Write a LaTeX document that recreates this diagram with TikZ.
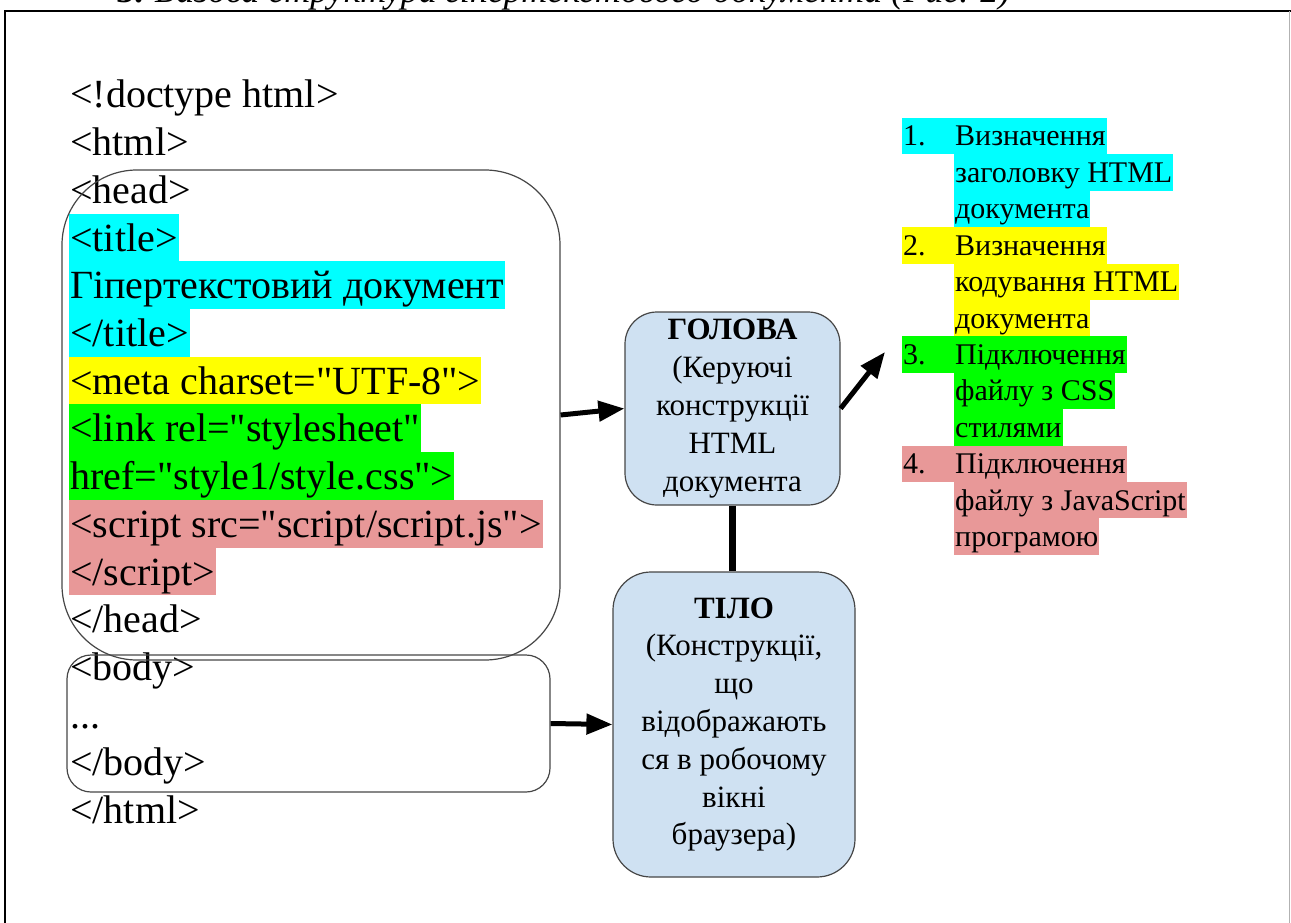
\documentclass[tikz,border=0pt]{standalone}
\usepackage{fontspec}
\setmainfont{Liberation Serif}[Ligatures=TeXOff]
\usetikzlibrary{arrows.meta}
\definecolor{hlcyan}{RGB}{0,255,255}
\definecolor{hlyellow}{RGB}{255,255,0}
\definecolor{hlgreen}{RGB}{0,255,0}
\definecolor{hlpink}{RGB}{232,152,152}
\definecolor{partfill}{RGB}{207,225,242}
\definecolor{partline}{RGB}{70,70,70}
\tikzset{
  codeline/.style={anchor=base west, inner xsep=1pt, inner ysep=0pt,
    text height=37.5pt, text depth=10.2pt, font=\fontsize{40}{47.7}\selectfont},
  listline/.style={anchor=base west, inner xsep=1pt, inner ysep=0pt,
    text height=28pt, text depth=8.4pt, font=\fontsize{30}{36.4}\selectfont},
  groupbox/.style={draw=partline, line width=1.2pt, inner sep=0pt},
  partbox/.style={draw=partline, line width=1.2pt, fill=partfill, rounded corners=32pt,
    align=center, inner sep=0pt, font=\fontsize{31}{37.8}\selectfont},
  flow/.style={line width=5pt, -{Triangle[length=26pt,width=20pt]}},
  link/.style={line width=7pt}
}
\begin{document}
\begin{tikzpicture}[x=1pt,y=-1pt]
\useasboundingbox (0,0) rectangle (1291,923);
\begin{scope}
\clip (0,0) rectangle (1291,923);
\node[anchor=base west, inner sep=0pt, font=\fontsize{36}{44}\selectfont] (caption) at (116,3)
  {\textbf{3.} \textit{Базова структура гіпертекстового документа (Рис. 2)}};
\end{scope}
% page frame
\draw[line width=2.5pt] (5,923) -- (5,11) -- (1291,11);
\draw[gray!60, line width=1pt] (1289,11) -- (1289,923);

% HTML source
\node[codeline] (l0) at (69,108.0) {<!doctype html>};
\node[codeline] (l1) at (69,155.7) {<html>};
\node[codeline] (l2) at (69,203.4) {<head>};
\node[codeline, fill=hlcyan] (l3) at (69,251.1) {<title>};
\node[codeline, fill=hlcyan] (l4) at (69,298.8) {Гіпертекстовий документ};
\node[codeline, fill=hlcyan] (l5) at (69,346.5) {</title>};
\node[codeline, fill=hlyellow] (l6) at (69,394.2) {<meta charset="UTF-8">};
\node[codeline, fill=hlgreen] (l7) at (69,441.9) {<link rel="stylesheet"};
\node[codeline, fill=hlgreen] (l8) at (69,489.6) {href="style1/style.css">};
\node[codeline, fill=hlpink] (l9) at (69,537.3) {<script src="script/script.js">};
\node[codeline, fill=hlpink] (l10) at (69,585.0) {</script>};
\node[codeline] (l11) at (69,632.7) {</head>};
\node[codeline] (l12) at (69,680.4) {<body>};
\node[codeline] (l13) at (69,728.1) {...};
\node[codeline] (l14) at (69,775.8) {</body>};
\node[codeline] (l15) at (69,823.5) {</html>};

% groups of the source
\node[groupbox, rounded corners=75pt, minimum width=498pt, minimum height=490pt] (headbox) at (311,415) {};
\node[groupbox, rounded corners=24pt, minimum width=483pt, minimum height=137pt] (bodybox) at (308.5,723.5) {};

% parts of the document
\node[partbox, minimum width=215pt, minimum height=193pt] (golova) at (732.5,408.5)
  {\textbf{ГОЛОВА}\\(Керуючі\\конструкції\\HTML\\документа};
\node[partbox, rounded corners=38pt, minimum width=242pt, minimum height=305pt] (tilo) at (734,724.5)
  {\textbf{ТІЛО}\\(Конструкції,\\що\\відображають\\ся в робочому\\вікні\\браузера)};

% list of head elements
\node[listline, fill=hlcyan] (i1) at (902,146.0) {\makebox[52pt][l]{1.}Визначення};
\node[listline, fill=hlcyan] (i1b) at (954,182.4) {заголовку HTML};
\node[listline, fill=hlcyan] (i1c) at (954,218.8) {документа};
\node[listline, fill=hlyellow] (i2) at (902,255.2) {\makebox[52pt][l]{2.}Визначення};
\node[listline, fill=hlyellow] (i2b) at (954,291.6) {кодування HTML};
\node[listline, fill=hlyellow] (i2c) at (954,328.0) {документа};
\node[listline, fill=hlgreen] (i3) at (902,364.4) {\makebox[52pt][l]{3.}Підключення};
\node[listline, fill=hlgreen] (i3b) at (954,400.8) {файлу з CSS};
\node[listline, fill=hlgreen] (i3c) at (954,437.2) {стилями};
\node[listline, fill=hlpink] (i4) at (902,473.6) {\makebox[52pt][l]{4.}Підключення};
\node[listline, fill=hlpink] (i4b) at (954,510.0) {файлу з JavaScript};
\node[listline, fill=hlpink] (i4c) at (954,546.4) {програмою};

% connectors
\coordinate (listin) at (885,352);
\draw[flow] (headbox.east) -- (golova.west);
\draw[flow] (bodybox.east) -- (tilo.west);
\draw[flow] (golova.east) -- (listin);
\draw[link] (golova.south) -- (golova.south |- tilo.north);
\end{tikzpicture}
\end{document}
